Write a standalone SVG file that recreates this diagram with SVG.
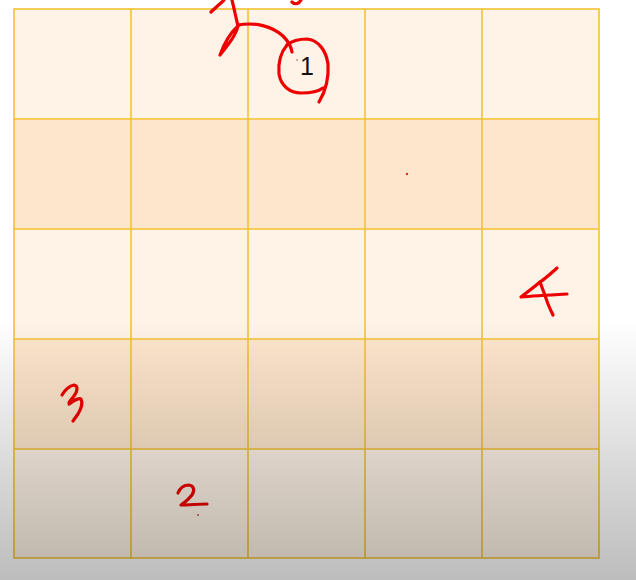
<svg xmlns="http://www.w3.org/2000/svg" width="636" height="580" viewBox="0 0 636 580">
<defs>
<style>
.c1{fill:#fef3e6}
.c2{fill:#fee6cc}
.ink{fill:none;stroke:#ee0000;stroke-width:3.2;stroke-linecap:round;stroke-linejoin:round}
.grid{stroke:#f3c232;stroke-width:1.6;fill:none}
</style>
<linearGradient id="shade" x1="0" y1="0" x2="0" y2="1">
<stop offset="0" stop-color="#000" stop-opacity="0"/>
<stop offset="1" stop-color="#000" stop-opacity="0.26"/>
</linearGradient>
</defs>
<rect width="636" height="580" fill="#ffffff"/>
<g id="cells">
<rect class="c1" x="14" y="9" width="585" height="110"/>
<rect class="c2" x="14" y="119" width="585" height="110"/>
<rect class="c1" x="14" y="229" width="585" height="110"/>
<rect class="c2" x="14" y="339" width="585" height="110"/>
<rect class="c1" x="14" y="449" width="585" height="109"/>
</g>
<g id="grid" class="grid">
<rect x="14" y="9" width="585" height="549"/>
<path d="M131 9V558M248 9V558M365 9V558M482 9V558M14 119H599M14 229H599M14 339H599M14 449H599"/>
</g>
<g id="label-1">
<text x="307" y="75" font-family="Liberation Sans, Arial, sans-serif" font-size="25" fill="#111" text-anchor="middle">1</text>
<circle cx="297" cy="60" r="0.8" fill="#c04040"/>
</g>
<g id="annotations">
<path class="ink" d="M220 55 C224 44 230 33 238 26 C236 35 228 45 220 55"/>
<path class="ink" d="M238 26 C236 18 234 8 232 0"/>
<path class="ink" d="M211 12 C215 8 220 4 224 0"/>
<path class="ink" d="M238 25 C255 22 272 26 283 36 C288 41 291 46 292 52"/>
<path class="ink" d="M292 2 C295 5 299 4 301 0"/>
<path class="ink" d="M287 45 C293 40 300 39 307 39 C318 40 326 50 328 64 C329 78 325 92 319 102"/>
<path class="ink" d="M287 45 C281 52 278 62 279 74 C281 86 290 93 301 93 C312 93 319 91 323 88"/>
<path class="ink" d="M557 268 C550 274 546 278 540 282 C533 288 526 293 521 297 C533 296 550 295 567 294"/>
<path class="ink" d="M540 282 C543 290 546 298 548 304 C550 309 552 313 553 315"/>
<path class="ink" d="M62 395 C65 390 69 386 74 385 C78 386 78 390 74 396 C71 400 68 403 69 404 C73 402 78 397 81 399 C83 403 81 409 78 414 L73 421"/>
<path class="ink" d="M178 493 C180 488 184 485 189 485 C194 486 195 490 192 495 C189 499 184 503 181 505 C190 505 198 504 207 504"/>
<circle cx="198" cy="515" r="0.9" fill="#c04040"/>
<circle cx="407" cy="174" r="1.2" fill="#d03030"/>
</g>
<rect x="0" y="320" width="636" height="260" fill="url(#shade)"/>
</svg>
